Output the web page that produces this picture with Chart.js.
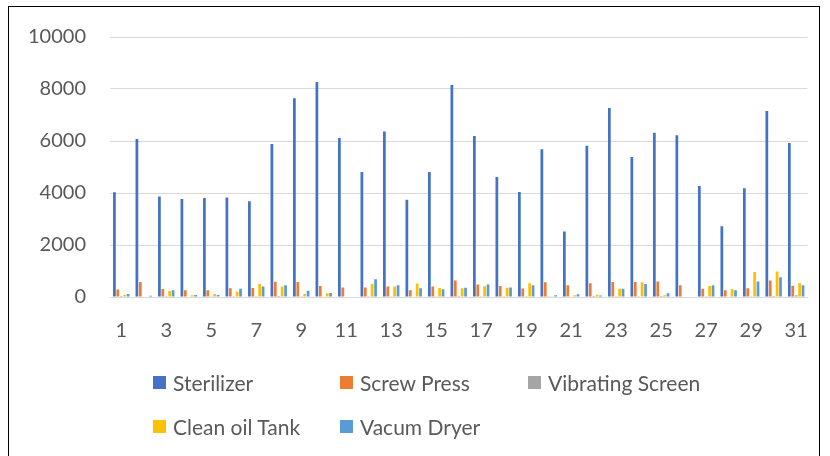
<!DOCTYPE html>
<html><head><meta charset="utf-8">
<script src="https://cdn.jsdelivr.net/npm/chart.js@4/dist/chart.umd.min.js"></script>
<style>
html,body{margin:0;padding:0;background:#fff;}
#wrap{position:relative;width:830px;height:456px;overflow:hidden;}
#frame{position:absolute;left:8px;top:6px;width:812px;height:470px;border:1.5px solid #000;box-sizing:border-box;}
canvas{position:absolute;left:0;top:0;}
.lg{position:absolute;font-family:Lato,"Open Sans",sans-serif;font-size:21px;color:#595959;white-space:nowrap;height:13px;line-height:13px;}
.lg i{position:absolute;left:0;top:0;width:13px;height:13px;}
.lg span{position:absolute;left:20px;top:-5px;line-height:24px;}
</style></head>
<body><div id="wrap"><div id="frame"></div><canvas id="c" width="830" height="456"></canvas>
<div id="legend"></div></div>
<script>
const categories = ["1","2","3","4","5","6","7","8","9","10","11","12","13","14","15","16","17","18","19","20","21","22","23","24","25","26","27","28","29","30","31"];
const seriesNames = ["Sterilizer","Screw Press","Vibrating Screen","Clean oil Tank","Vacum Dryer"];
const sterilizer = [4030,6080,3870,3770,3810,3830,3680,5885,7640,8270,6115,4810,6370,3745,4810,8155,6190,4615,4040,5680,2515,5820,7270,5385,6320,6220,4270,2720,4180,7155,5925];
const screwPress = [290,580,310,255,255,335,345,590,580,425,370,370,400,255,400,635,480,425,325,565,455,530,575,575,600,450,320,255,340,635,435];
const vibratingScreen = [40,20,30,20,30,30,30,40,30,20,20,30,30,20,30,40,30,30,30,30,20,40,30,30,40,20,30,20,30,40,65];
const cleanOilTank = [75,20,230,65,115,205,500,400,115,140,20,510,400,515,345,335,415,360,530,30,70,90,320,565,65,20,425,310,960,985,530];
const vacumDryer = [115,50,255,75,75,320,400,450,245,155,20,680,450,335,295,360,480,370,450,65,105,60,320,500,140,20,455,255,600,755,450];
const yTicks = [0,2000,4000,6000,8000,10000];
const xLabelsShown = ["1","3","5","7","9","11","13","15","17","19","21","23","25","27","29","31"];
const colors = ["#4472C4","#ED7D31","#A5A5A5","#FFC000","#5B9BD5"];
const values = [sterilizer, screwPress, vibratingScreen, cleanOilTank, vacumDryer];

const font = {family: "Lato, 'Open Sans', sans-serif", size: 20};
new Chart(document.getElementById('c'), {
  type: 'bar',
  data: {
    labels: categories,
    datasets: seriesNames.map((n,i)=>({label:n,data:values[i],backgroundColor:colors[i],borderWidth:0,categoryPercentage:0.76,barPercentage:0.8}))
  },
  options: {
    responsive:false, animation:false,
    layout:{padding:{left:0,top:37,right:14,bottom:0}},
    plugins:{legend:{display:false},tooltip:{enabled:false}},
    scales:{
      x:{
        grid:{display:false,drawTicks:false},
        border:{display:true,color:'#d9d9d9',width:1},
        ticks:{color:'#595959',font:font,padding:22,maxRotation:0,autoSkip:false,
          callback:function(v,i){const l=categories[i];return xLabelsShown.includes(l)?l:'';}},
        afterFit:s=>{s.height=159;}
      },
      y:{
        min:0,max:10000,
        afterBuildTicks:s=>{s.ticks=yTicks.map(v=>({value:v}));},
        grid:{color:'#d9d9d9',lineWidth:1,drawTicks:false},
        border:{display:false},
        ticks:{color:'#595959',font:font,padding:24,callback:v=>String(v)},
        afterFit:s=>{s.width=110;}
      }
    }
  }
});
const lg=document.getElementById('legend');
const pos=[[153,376],[340,376],[528,376],[153,420],[340,420]];
seriesNames.forEach((n,i)=>{const d=document.createElement('div');d.className='lg';d.style.left=pos[i][0]+'px';d.style.top=pos[i][1]+'px';d.innerHTML='<i style="background:'+colors[i]+'"></i><span>'+n+'</span>';lg.appendChild(d);});
</script></body></html>
